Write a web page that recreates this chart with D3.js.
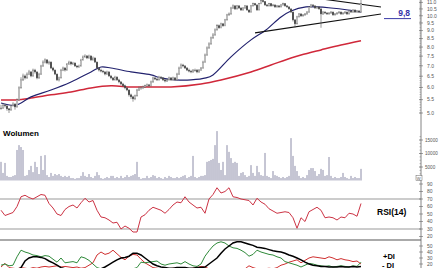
<!DOCTYPE html>
<html>
<head>
<meta charset="utf-8">
<script src="https://cdn.jsdelivr.net/npm/d3@7"></script>
<style>
body { margin: 0; background: #fff; }
svg { display: block; font-family: "Liberation Sans", Arial, sans-serif; }
</style>
</head>
<body>
<script>
// daily closes, highs and lows (one bar every 2px)
var closes = [5.18,5.29,5.26,5.15,5.11,5.26,5.33,5.22,5.49,5.98,6.33,6.51,6.42,6.60,6.70,6.51,6.79,6.70,6.42,6.60,
  6.99,7.19,7.30,7.14,7.19,6.89,6.79,6.60,6.33,6.42,6.79,6.89,6.79,7.09,7.19,7.09,7.14,6.99,6.94,6.99,
  7.30,7.46,7.51,7.40,7.51,7.30,7.40,7.19,6.89,6.79,6.74,6.70,6.60,6.70,6.51,6.42,6.33,6.46,6.33,6.24,
  6.15,6.07,5.98,5.89,5.69,5.61,5.53,5.65,5.89,5.98,5.98,6.02,6.07,6.11,6.07,6.24,6.42,6.37,6.33,6.46,
  6.42,6.33,6.28,6.33,6.42,6.33,6.42,6.33,6.60,6.89,7.04,6.99,6.89,6.79,6.74,6.70,6.79,6.79,6.70,6.79,
  6.89,7.19,7.56,7.95,8.18,8.54,8.72,9.04,9.31,9.18,9.44,9.31,9.71,10.06,10.13,10.57,10.73,10.50,10.73,10.57,
  10.42,10.57,10.73,10.42,10.27,10.73,10.90,10.80,10.42,10.90,11.14,11.06,10.80,10.73,10.90,10.73,10.80,10.65,10.73,10.65,
  10.80,10.90,10.73,10.65,10.50,10.27,9.71,9.44,9.92,10.13,9.99,10.06,10.13,10.27,10.65,10.80,10.73,10.57,10.65,10.50,
  10.13,10.27,10.20,10.13,10.20,10.27,10.06,10.13,10.20,10.27,10.13,10.20,10.27,10.13,10.35,10.27,10.42,10.27,10.35,10.27,
  10.90];
var highs = [5.30,5.36,5.34,5.28,5.18,5.30,5.40,5.36,5.55,6.05,6.45,6.62,6.58,6.68,6.80,6.74,6.86,6.85,6.72,6.66,
  7.05,7.28,7.38,7.34,7.26,7.22,6.95,6.82,6.62,6.48,6.85,6.96,6.94,7.14,7.26,7.24,7.20,7.18,7.04,7.06,
  7.36,7.54,7.60,7.56,7.58,7.54,7.48,7.44,7.22,6.94,6.86,6.80,6.74,6.76,6.74,6.56,6.46,6.52,6.50,6.38,
  6.28,6.20,6.12,6.02,5.92,5.74,5.66,5.70,5.94,6.04,6.06,6.08,6.12,6.17,6.15,6.30,6.48,6.46,6.42,6.52,
  6.50,6.46,6.38,6.38,6.48,6.46,6.48,6.46,6.66,6.96,7.12,7.10,7.04,6.94,6.86,6.80,6.84,6.86,6.84,6.84,
  6.94,7.26,7.64,8.04,8.28,8.62,8.84,9.14,9.42,9.40,9.52,9.50,9.78,10.14,10.24,10.66,10.84,10.78,10.80,10.78,
  10.62,10.64,10.80,10.76,10.46,10.80,10.98,10.96,10.84,10.96,11.25,11.20,11.10,10.88,10.96,10.94,10.88,10.84,10.80,10.78,
  10.88,10.98,10.94,10.78,10.70,10.54,10.30,9.76,10.00,10.20,10.18,10.12,10.20,10.34,10.72,10.88,10.86,10.76,10.72,10.70,
  10.54,10.34,10.32,10.26,10.26,10.34,10.30,10.20,10.26,10.34,10.30,10.26,10.34,10.30,10.42,10.40,10.48,10.46,10.42,10.40,
  11.20];
var lows = [5.12,5.15,5.20,5.08,5.00,5.08,5.24,5.12,5.20,5.45,5.95,6.28,6.35,6.38,6.55,6.45,6.48,6.62,6.36,6.38,
  6.56,6.95,7.12,7.08,7.05,6.84,6.72,6.55,6.28,6.26,6.40,6.74,6.72,6.76,7.04,7.02,7.04,6.94,6.88,6.90,
  6.96,7.26,7.40,7.34,7.36,7.24,7.26,7.14,6.82,6.72,6.68,6.64,6.54,6.56,6.46,6.36,6.28,6.30,6.28,6.18,
  6.10,6.02,5.92,5.84,5.62,5.52,5.42,5.48,5.62,5.85,5.90,5.93,5.98,6.02,6.01,6.04,6.20,6.32,6.28,6.30,
  6.36,6.28,6.22,6.24,6.30,6.28,6.30,6.28,6.30,6.56,6.86,6.92,6.84,6.74,6.68,6.64,6.66,6.72,6.64,6.66,
  6.76,6.86,7.16,7.52,7.90,8.14,8.48,8.68,9.00,9.10,9.14,9.24,9.28,9.66,10.00,10.08,10.50,10.42,10.46,10.50,
  10.35,10.38,10.52,10.36,10.20,10.24,10.68,10.74,10.36,10.40,10.86,10.98,10.74,10.66,10.68,10.66,10.70,10.58,10.60,10.58,
  10.62,10.76,10.66,10.58,10.44,10.20,9.60,9.20,9.40,9.88,9.92,9.94,10.00,10.08,10.22,10.60,10.66,10.50,10.52,10.44,
  9.18,10.06,10.12,10.06,10.08,10.14,10.00,10.02,10.08,10.16,10.06,10.08,10.14,10.06,10.10,10.20,10.22,10.20,10.22,10.20,
  10.22];
// volume in thousands
var volumes = [6.9,2.8,6.5,1.7,1.3,1.3,1.7,2.0,11.3,13.1,12.4,11.3,1.7,2.0,3.9,5.4,3.1,6.9,5.0,2.4,
  9.1,3.9,9.4,2.0,1.3,2.8,1.7,2.4,2.0,2.4,1.7,1.3,1.7,1.3,1.7,0.9,0.9,0.6,0.9,0.9,
  1.7,3.1,1.7,1.3,2.4,1.3,0.9,1.7,3.1,2.0,0.9,0.6,0.9,1.3,0.9,1.7,1.7,0.9,1.3,0.9,
  1.7,0.9,1.3,2.0,1.3,1.7,2.0,2.4,6.9,1.3,0.6,0.9,0.9,1.7,0.9,1.3,2.0,1.7,0.9,1.3,
  0.9,0.6,1.3,0.9,1.7,1.3,0.9,0.9,1.3,0.9,1.3,1.7,2.0,0.9,1.3,1.7,9.1,1.3,0.9,1.3,
  1.7,1.7,2.0,6.9,7.2,7.6,8.0,13.1,18.3,6.5,3.9,6.9,2.0,13.1,10.6,8.3,6.5,6.9,6.5,1.7,
  2.8,3.1,2.0,1.3,1.7,5.7,2.8,1.7,5.4,3.1,2.0,1.7,10.2,1.7,1.3,0.9,3.5,2.0,1.7,1.3,
  0.9,1.3,0.9,1.3,1.7,15.7,9.1,5.4,3.5,1.7,0.9,1.3,0.9,2.0,3.9,4.6,4.6,3.5,1.7,2.4,
  4.3,3.9,1.7,2.0,8.7,1.7,0.9,1.3,0.9,0.9,1.3,2.8,1.3,0.9,0.6,1.7,0.9,1.3,0.9,0.9,
  4.3];
// moving averages, sampled at bar positions
var maBlueIdx = [0,7.5,15,25,35,45,50,55,65,75,80,87.5,95,102.5,106,115,125,132.5,140,145,152.5,157.5,165,173.5,180];
var maBlue = [5.37,5.29,5.61,5.89,6.24,6.70,6.94,6.89,6.70,6.56,6.42,6.33,6.33,6.42,6.56,7.46,8.42,9.04,9.92,10.35,10.65,10.65,10.57,10.42,10.27];
var maRedIdx = [0,7.5,15,25,35,45,55,65,75,85,100,110,125,135,145,150,160,170,180];
var maRed = [5.49,5.49,5.56,5.69,5.81,5.98,6.07,6.02,6.02,6.02,6.15,6.33,6.70,7.04,7.40,7.56,7.84,8.12,8.37];
// trend lines [bar index, price]
var trendUpper = [[150, 11.5], [190, 10.65]];
var trendLower = [[127, 8.85], [190, 10.13]];
var markLevel = 9.8;
var markLabel = "9,8";
// oscillators, one value every 2 bars
var rsi = [55,48,50,52,60,73,75,72,70,73,76,75,64,58,50,48,56,60,62,58,65,71,66,68,55,46,45,42,38,39,
  30,34,31,26,26,46,49,55,59,57,55,51,56,62,66,65,73,66,62,58,59,51,70,76,85,78,80,85,73,72,
  70,69,68,62,71,66,63,57,54,51,52,53,52,45,31,45,40,53,56,59,55,45,46,45,42,46,45,51,50,47,64];
var diPlus = [18,20,17,18,32,43,40,38,35,34,32,34,33,28,23,30,22,23,24,22,32,30,26,20,14,12,11,12,10,11,
  12,11,10,12,14,23,22,23,24,25,20,18,20,21,22,20,24,20,17,16,20,33,42,50,55,57,55,50,47,46,
  43,39,33,36,43,40,38,36,35,32,30,24,22,20,18,15,18,21,20,18,17,16,17,15,16,17,16,15,17,16,23];
var diMinus = [15,21,14,13,12,14,13,12,14,13,15,16,15,16,17,15,16,15,14,15,13,14,18,22,35,40,36,38,43,37,
  31,27,33,36,35,28,22,18,14,13,12,13,12,13,12,14,13,12,13,14,16,15,12,10,9,9,10,9,10,11,
  10,12,17,14,12,11,12,13,12,14,18,20,23,25,27,22,26,30,32,31,30,29,32,30,27,29,27,26,24,25,20];
var adx = [10,10,9,9,10,14,25,30,32,32,31,29,25,22,18,14,12,11,10,10,10,10,9,9,10,12,15,19,23,27,
  30,31,33,38,38,35,30,25,20,17,15,14,13,13,14,14,14,13,13,14,14,15,20,25,30,38,45,50,55,57,
  57,55,53,51,48,47,46,44,42,41,40,38,35,33,30,27,23,20,18,17,16,16,15,15,15,16,15,15,16,15,16];
var priceTicks = [5.0,5.5,6.0,6.5,7.0,7.5,8.0,8.5,9.0,9.5,10.0,10.5,11.0];
var volTicks = [5000,10000,15000];
var rsiTicks = [20,30,40,50,60,70,80,90];
var dmiTicks = [20,30,40,50];

var w = 439, h = 268, axisX = 421;
var svg = d3.select("body").append("svg").attr("width", w).attr("height", h);

var x = d3.scaleLinear().domain([0, closes.length - 1]).range([1, 361]);
var yP = d3.scaleLog().domain([5, 11]).range([113, 2.4]);
var yV = d3.scaleLinear().domain([0, 15000]).range([180.5, 140]);
var yR = d3.scaleLinear().domain([30, 70]).range([229, 199]);
var yD = d3.scaleLinear().domain([20, 50]).range([264, 246]);

svg.append("clipPath").attr("id", "pc").append("rect")
    .attr("x", 0).attr("y", 0).attr("width", axisX).attr("height", 122);

// volume
svg.append("g").selectAll("line").data(volumes).enter().append("line")
    .attr("x1", function(d, i) { return x(i); })
    .attr("x2", function(d, i) { return x(i); })
    .attr("y1", yV(0))
    .attr("y2", function(d) { return yV(d * 1000); })
    .attr("stroke", "#80809e").attr("stroke-width", 0.9);

// RSI / DMI guide lines
[yR(70), yR(30)].forEach(function(yy) {
    svg.append("line").attr("x1", 0).attr("x2", axisX).attr("y1", yy).attr("y2", yy)
        .attr("stroke", "#9a9a9a").attr("stroke-width", 1.2);
});
svg.append("line").attr("x1", 0).attr("x2", axisX).attr("y1", 240).attr("y2", 240)
    .attr("stroke", "#aaa").attr("stroke-width", 2);

// price panel
var pg = svg.append("g").attr("clip-path", "url(#pc)");
var maLine = d3.line().curve(d3.curveCatmullRom);
pg.append("path")
    .attr("d", maLine(maRed.map(function(v, i) { return [x(maRedIdx[i]), yP(v)]; })))
    .attr("fill", "none").attr("stroke", "#d0283a").attr("stroke-width", 1.5);
pg.append("path")
    .attr("d", maLine(maBlue.map(function(v, i) { return [x(maBlueIdx[i]), yP(v)]; })))
    .attr("fill", "none").attr("stroke", "#22226e").attr("stroke-width", 1.2);

[trendUpper, trendLower].forEach(function(t) {
    pg.append("line")
        .attr("x1", x(t[0][0])).attr("y1", yP(t[0][1]))
        .attr("x2", x(t[1][0])).attr("y2", yP(t[1][1]))
        .attr("stroke", "#111").attr("stroke-width", 1.1);
});

var bars = pg.append("g").selectAll("g").data(closes).enter().append("g");
bars.append("line")
    .attr("x1", function(d, i) { return x(i); })
    .attr("x2", function(d, i) { return x(i); })
    .attr("y1", function(d, i) { return yP(highs[i]); })
    .attr("y2", function(d, i) { return yP(lows[i]); })
    .attr("stroke", "#555").attr("stroke-width", 0.6);
bars.append("rect")
    .attr("x", function(d, i) { return x(i) - 0.8; })
    .attr("width", 1.6)
    .attr("y", function(d, i) {
        var o = i > 0 ? closes[i - 1] : d;
        return yP(Math.max(o, d));
    })
    .attr("height", function(d, i) {
        var o = i > 0 ? closes[i - 1] : d;
        return Math.max(0.8, yP(Math.min(o, d)) - yP(Math.max(o, d)));
    })
    .attr("fill", function(d, i) { return i > 0 && d < closes[i - 1] ? "#222" : "#fff"; })
    .attr("stroke", "#666").attr("stroke-width", 0.4);

// 9,8 marker
svg.append("line").attr("x1", 384).attr("x2", 411).attr("y1", yP(markLevel)).attr("y2", yP(markLevel))
    .attr("stroke", "#3a3aa8").attr("stroke-width", 1);
svg.append("text").attr("x", 410).attr("y", yP(markLevel) - 2.5).attr("text-anchor", "end")
    .attr("font-size", 8.5).attr("font-weight", "bold").attr("fill", "#3333aa").text(markLabel);

// oscillators
var ox = function(d, i) { return x(i * 2); };
svg.append("path")
    .attr("d", d3.line().x(ox).y(function(d) { return yR(d); })(rsi))
    .attr("fill", "none").attr("stroke", "#cc3344").attr("stroke-width", 1);
svg.append("path")
    .attr("d", d3.line().x(ox).y(function(d) { return yD(d); })(diMinus))
    .attr("fill", "none").attr("stroke", "#d03030").attr("stroke-width", 1);
svg.append("path")
    .attr("d", d3.line().x(ox).y(function(d) { return yD(d); })(diPlus))
    .attr("fill", "none").attr("stroke", "#2f8a3a").attr("stroke-width", 1);
svg.append("path")
    .attr("d", d3.line().x(ox).y(function(d) { return yD(d); })(adx))
    .attr("fill", "none").attr("stroke", "#000").attr("stroke-width", 1.5);

// labels
svg.append("text").attr("x", 3).attr("y", 136).attr("font-size", 8).attr("font-weight", "bold").text("Wolumen");
svg.append("text").attr("x", 377).attr("y", 215).attr("font-size", 8.5).attr("font-weight", "bold").text("RSI(14)");
svg.append("text").attr("x", 383).attr("y", 259).attr("font-size", 7.5).attr("font-weight", "bold").text("+DI");
svg.append("text").attr("x", 382).attr("y", 267.5).attr("font-size", 7.5).attr("font-weight", "bold").text("- DI");

// right axis
var ax = svg.append("g").attr("fill", "#555").attr("font-size", 5);
ax.append("line").attr("x1", axisX).attr("x2", axisX).attr("y1", 0).attr("y2", h)
    .attr("stroke", "#666").attr("stroke-width", 0.8);
function ticks(vals, scale, fmt, lx, fs) {
    vals.forEach(function(v) {
        var yy = scale(v);
        ax.append("line").attr("x1", axisX - 2).attr("x2", axisX + 2).attr("y1", yy).attr("y2", yy)
            .attr("stroke", "#666").attr("stroke-width", 0.6);
        ax.append("text").attr("x", lx).attr("y", yy + 1.8).attr("font-size", fs).text(fmt(v));
    });
}
var minor = d3.range(50, 116).map(function(v) { return v / 10; });
minor.forEach(function(v) {
    ax.append("line").attr("x1", axisX - 1.5).attr("x2", axisX).attr("y1", yP(v)).attr("y2", yP(v))
        .attr("stroke", "#777").attr("stroke-width", 0.5);
});
d3.range(0, 17500, 1250).forEach(function(v) {
    ax.append("line").attr("x1", axisX - 1.5).attr("x2", axisX).attr("y1", yV(v)).attr("y2", yV(v))
        .attr("stroke", "#777").attr("stroke-width", 0.5);
});
ticks(priceTicks, yP, d3.format(".1f"), 427, 5);
ticks(volTicks, yV, d3.format("d"), 425, 4.6);
ticks(rsiTicks, yR, d3.format("d"), 427, 5);
ticks(dmiTicks, yD, d3.format("d"), 427, 5);
ax.append("rect").attr("x", axisX - 5).attr("y", 175.5).attr("width", 6).attr("height", 5)
    .attr("fill", "#fff").attr("stroke", "#666").attr("stroke-width", 0.5);
ax.append("text").attr("x", axisX - 4.3).attr("y", 179.5).attr("font-size", 4).text("W");
</script>
</body>
</html>
